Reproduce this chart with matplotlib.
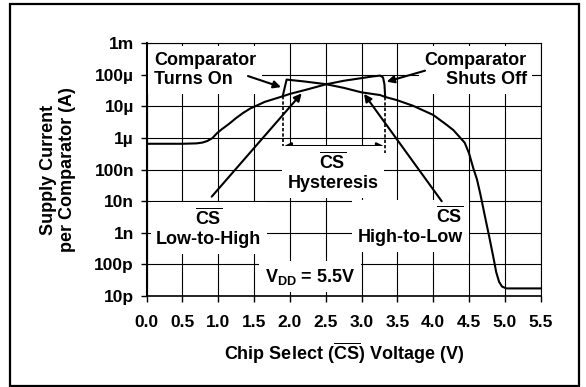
import matplotlib
matplotlib.use("Agg")
import matplotlib.pyplot as plt
from matplotlib.patches import Rectangle
from matplotlib.ticker import FixedLocator, NullLocator

plt.rcParams['font.family'] = ['Liberation Sans', 'DejaVu Sans']
plt.rcParams['font.weight'] = 'bold'
plt.rcParams['mathtext.fontset'] = 'custom'
plt.rcParams['mathtext.rm'] = 'Liberation Sans:bold'
plt.rcParams['mathtext.bf'] = 'Liberation Sans:bold'
plt.rcParams['mathtext.it'] = 'Liberation Sans:bold'

# CS rising (low-to-high): supply current per comparator
v_low_high = [0.00, 0.50, 0.70, 0.78, 0.85, 0.92, 0.98, 1.05, 1.15, 1.25, 1.35, 1.45, 1.55,
              1.65, 1.77, 1.90, 2.00, 2.25, 2.50, 2.75, 3.00, 3.15, 3.26, 3.30, 3.32, 3.33]
i_low_high = [6.6e-7, 6.6e-7, 6.8e-7, 7.2e-7, 8.1e-7, 1.0e-6, 1.4e-6, 1.9e-6, 2.8e-6, 4.3e-6,
              6.3e-6, 8.7e-6, 1.1e-5, 1.4e-5, 1.7e-5, 2.1e-5, 2.5e-5, 3.5e-5, 5.0e-5, 6.5e-5,
              7.9e-5, 8.9e-5, 9.5e-5, 8.3e-5, 5.0e-5, 2.0e-5]

# CS falling (high-to-low)
v_high_low = [1.90, 1.955, 2.20, 2.50, 2.75, 3.00, 3.26, 3.33, 3.49, 3.72, 4.00, 4.19, 4.28,
              4.37, 4.44, 4.50, 4.56, 4.61, 4.66, 4.72, 4.78, 4.84, 4.88, 4.92, 4.96, 5.02, 5.50]
i_high_low = [2.1e-5, 7.1e-5, 6.2e-5, 5.1e-5, 3.9e-5, 2.8e-5, 2.3e-5, 2.0e-5, 1.6e-5, 1.05e-5,
              5.4e-6, 2.6e-6, 1.8e-6, 1.07e-6, 7.1e-7, 3.3e-7, 1.1e-7, 5.0e-8, 1.6e-8, 3.5e-9,
              7.9e-10, 1.66e-10, 5.6e-11, 2.8e-11, 2.0e-11, 1.74e-11, 1.74e-11]

# switching points of the comparator
v_turn_on = 1.90
v_shut_off = 3.33
i_turn_on = 2.1e-5
i_shut_off = 2.0e-5

x_ticks = [0.0, 0.5, 1.0, 1.5, 2.0, 2.5, 3.0, 3.5, 4.0, 4.5, 5.0, 5.5]
y_ticks = [1e-11, 1e-10, 1e-9, 1e-8, 1e-7, 1e-6, 1e-5, 1e-4, 1e-3]
y_tick_labels = ['10p', '100p', '1n', '10n', '100n', '1µ', '10µ', '100µ', '1m']

fig = plt.figure(figsize=(5.86, 3.87), dpi=100)
ax = fig.add_axes([0.25, 0.2351, 0.6727, 0.653])

ax.plot(v_low_high, i_low_high, color='black', lw=1.5, zorder=4)
ax.plot(v_high_low, i_high_low, color='black', lw=1.5, zorder=4)

# hysteresis markers
ax.plot([v_turn_on, v_turn_on], [i_turn_on, 3.4e-7], color='black', lw=1.2, ls=(0, (2, 1.2)))
ax.plot([v_shut_off, v_shut_off], [i_shut_off, 3.4e-7], color='black', lw=1.2, ls=(0, (2, 1.2)))
ax.annotate('', xy=(v_shut_off, 5.6e-7), xytext=(v_turn_on, 5.6e-7),
            arrowprops=dict(arrowstyle='<|-|>', color='black', lw=1.5,
                            mutation_scale=10, shrinkA=1, shrinkB=1))

ax.set_yscale('log')
ax.set_xlim(0, 5.5)
ax.set_ylim(1e-11, 1e-3)
ax.xaxis.set_major_locator(FixedLocator(x_ticks))
ax.set_xticklabels([f'{x:.1f}' for x in x_ticks])
ax.yaxis.set_major_locator(FixedLocator(y_ticks))
ax.yaxis.set_minor_locator(NullLocator())
ax.set_yticklabels(y_tick_labels)
ax.tick_params(direction='out', length=4, width=1, colors='black', labelsize=12.5)
ax.tick_params(axis='x', pad=10)
ax.tick_params(axis='y', pad=5)
ax.grid(True, color='black', lw=0.8)
ax.set_axisbelow(True)
for s in ax.spines.values():
    s.set_linewidth(0.8)
ax.spines['left'].set_linewidth(1.5)
ax.spines['bottom'].set_linewidth(1.2)

box = dict(facecolor='white', edgecolor='none', pad=4)
cs = r'$\overline{\mathrm{CS}}$'

ax.text(0.105, 1.43e-4, 'Comparator\nTurns On', ha='left', va='center',
        fontsize=13, bbox=box, zorder=3)
ax.text(5.305, 1.43e-4, 'Comparator\nShuts Off', ha='right', va='center',
        multialignment='right', fontsize=13, bbox=box, zorder=3)
ax.text(2.60, 8.5e-8, cs + '\nHysteresis', ha='center', va='center',
        multialignment='center', fontsize=13, bbox=box, zorder=3)
ax.text(0.87, 1.4e-9, cs + '\nLow-to-High', ha='center', va='center',
        multialignment='center', fontsize=13, bbox=box, zorder=3)
ax.text(4.42, 1.65e-9, cs + '\nHigh-to-Low', ha='right', va='center',
        multialignment='right', fontsize=13, bbox=box, zorder=3)
ax.text(1.65, 4.1e-11, r'V$_{\mathrm{DD}}$ = 5.5V', ha='left', va='center',
        fontsize=13, bbox=box, zorder=3)

arrow = dict(arrowstyle='-|>', color='black', lw=1.5, mutation_scale=11, shrinkA=0, shrinkB=0)
ax.annotate('', xy=(1.877, 4.1e-5), xytext=(1.416, 9.2e-5), arrowprops=arrow, zorder=5)
ax.annotate('', xy=(3.351, 6.1e-5), xytext=(3.886, 1.36e-4), arrowprops=arrow, zorder=5)
ax.annotate('', xy=(2.165, 2.6e-5), xytext=(0.91, 1.4e-8), arrowprops=arrow, zorder=5)
ax.annotate('', xy=(3.035, 2.5e-5), xytext=(4.119, 1.0e-8), arrowprops=arrow, zorder=5)

fig.text(58 / 586, 1 - 170 / 387, 'Supply Current\nper Comparator (A)', rotation=90,
         ha='center', va='center', multialignment='center', fontsize=13)
fig.text(344 / 586, 1 - 353 / 387, r'Chip Select ($\overline{\mathrm{CS}}$) Voltage (V)',
         ha='center', va='center', fontsize=13)

# outer frame
fig.add_artist(Rectangle((0.0179, 0.0026), 0.970, 0.987, transform=fig.transFigure,
                         fill=False, lw=1.6, ec='black'))

fig.savefig('out.png', dpi=100)
